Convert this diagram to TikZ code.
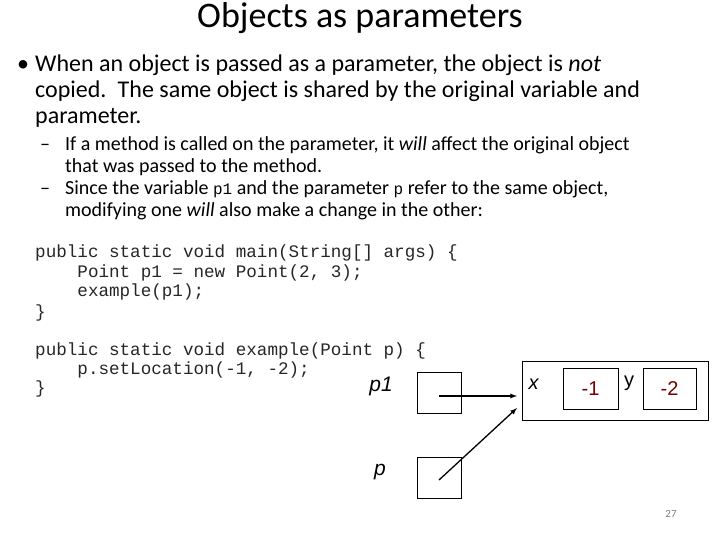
\documentclass[tikz,border=0pt]{standalone}
\usepackage{fontspec}
\setmainfont{Carlito}
\newfontfamily\codefont{Liberation Mono}
\newfontfamily\arialf{Liberation Sans}
\begin{document}
\begin{tikzpicture}[x=1pt,y=-1pt,
  txt/.style={anchor=base west,inner sep=0pt},
  body/.style={txt,font=\fontsize{24}{28}\selectfont},
  sub/.style={txt,font=\fontsize{20}{24}\selectfont},
  code/.style={txt,font=\codefont\fontsize{17.6}{20}\selectfont,text=black!85},
  cell/.style={draw,line width=1pt},
  arr/.style={-latex,line width=1.3pt}]
\useasboundingbox (0,0) rectangle (720,540);
\node[anchor=base,inner sep=0pt,font=\fontsize{36}{40}\selectfont] (title) at (360,28) {Objects as parameters};
\node[body] (b1) at (17,72) {•};
\node[body] (l1) at (35,72) {When an object is passed as a parameter, the object is \textit{not}};
\node[body] (l2) at (35,98) {copied. \,The same object is shared by the original variable and};
\node[body] (l3) at (35,124) {parameter.};
\node[sub] (d1) at (40,151) {–};
\node[sub] (s1) at (65,151) {If a method is called on the parameter, it \textit{will} affect the original object};
\node[sub] (s2) at (65,173) {that was passed to the method.};
\node[sub] (d2) at (40,195) {–};
\node[sub] (s3) at (65,195) {Since the variable {\codefont\fontsize{16}{20}\selectfont p1} and the parameter {\codefont\fontsize{16}{20}\selectfont p} refer to the same object,};
\node[sub] (s4) at (65,217) {modifying one \textit{will} also make a change in the other:};
\node[code] (c1) at (35,258) {public static void main(String[] args) \{};
\node[code] (c2) at (35,277) {\ \ \ \ Point p1 = new Point(2, 3);};
\node[code] (c3) at (35,296) {\ \ \ \ example(p1);};
\node[code] (c4) at (35,317) {\}};
\node[code] (c5) at (35,355) {public static void example(Point p) \{};
\node[code] (c6) at (35,374) {\ \ \ \ p.setLocation(-1, -2);};
\node[code] (c7) at (35,393) {\}};
% boxes
\draw[cell] (417,372) rectangle (461,413);
\coordinate (p1c) at (439,396);
\draw[cell] (417,457) rectangle (461,498);
\coordinate (pc) at (439,480);
\node[draw,line width=0.8pt,minimum width=186,minimum height=59,inner sep=0pt] (obj) at (615,390.5) {};
\draw[cell] (563,368) rectangle (618,409);
\draw[cell] (643,368) rectangle (696,409);
\node[inner sep=0pt,font=\arialf\fontsize{20}{22}\selectfont,text=red!45!black] (vx) at (590.5,388.5) {-1};
\node[inner sep=0pt,font=\arialf\fontsize{20}{22}\selectfont,text=red!45!black] (vy) at (669.5,388.5) {-2};
\node[inner sep=0pt,font=\arialf\fontsize{20}{22}\selectfont] (lx) at (534,384) {\textit{x}};
\node[inner sep=0pt,font=\arialf\fontsize{20}{22}\selectfont] (ly) at (629,383) {y};
\node[inner sep=0pt,font=\arialf\itshape\fontsize{21}{24}\selectfont] (lp1) at (381,386) {p1};
\node[inner sep=0pt,font=\arialf\itshape\fontsize{21}{24}\selectfont] (lp) at (380,472) {p};
\coordinate (t1) at (517,396);
\coordinate (t2) at (517,408);
\draw[arr] (p1c) -- (t1);
\draw[arr] (pc) -- (t2);
\node[inner sep=0pt,font=\fontsize{11}{12}\selectfont,text=gray] (num) at (671,514) {27};
\end{tikzpicture}
\end{document}
